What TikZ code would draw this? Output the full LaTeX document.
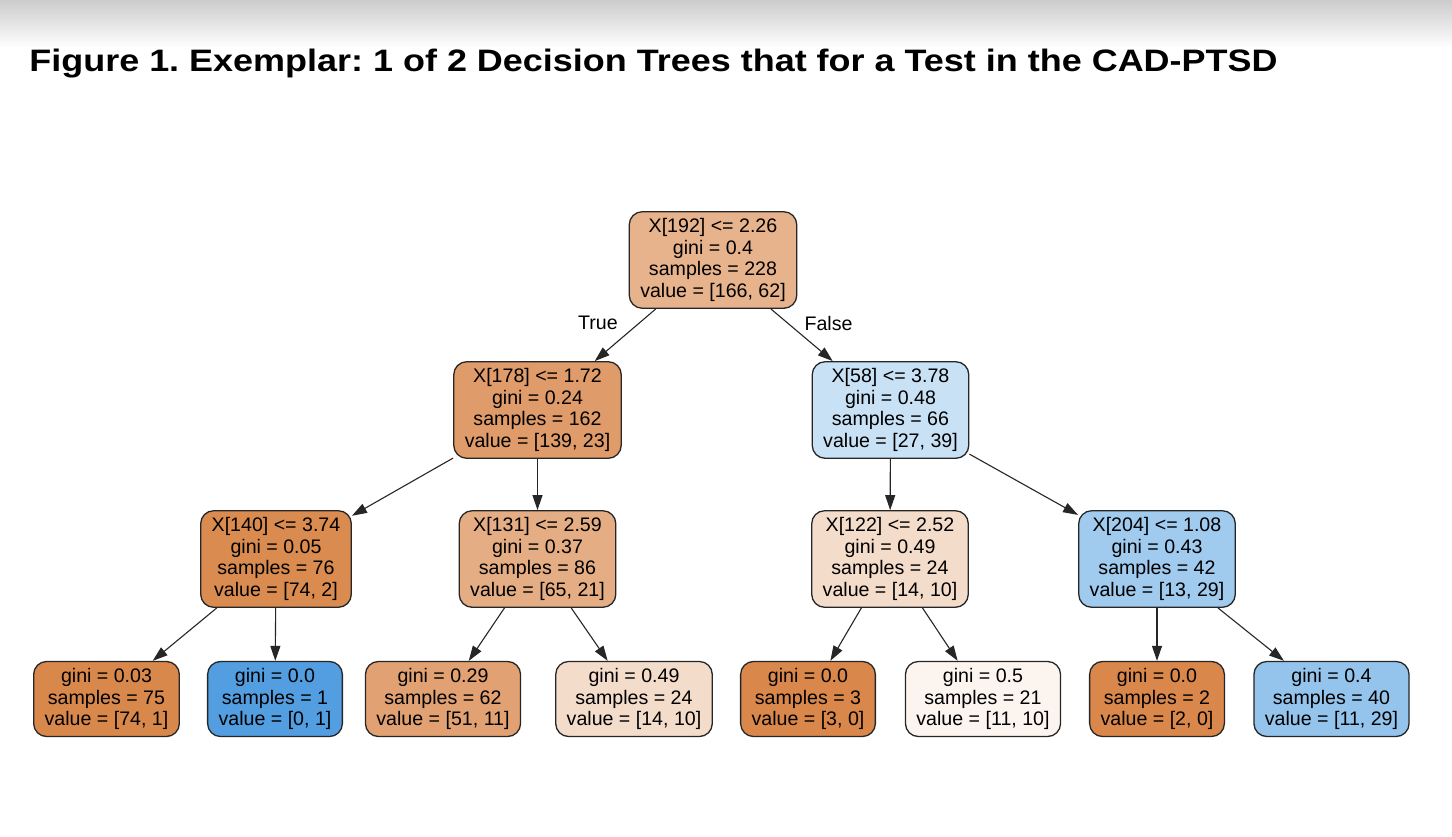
\documentclass[tikz,border=0pt]{standalone}
\usepackage{fontspec}
\setmainfont{Liberation Sans}
\newfontfamily\titlefont[FakeStretch=1.16]{Liberation Sans}
\usepackage{xcolor}
\usetikzlibrary{arrows.meta}

\definecolor{classA}{HTML}{D9874A}
\definecolor{classB}{HTML}{529EE0}

\begin{document}
\frenchspacing
\begin{tikzpicture}[x=0.5pt, y=-0.5pt,
    every node/.style={font=\fontsize{9.8}{10.75}\selectfont},
    split/.style={draw=black!85, line width=0.65pt, rounded corners=6.5pt,
      align=center, inner xsep=5.5pt, inner ysep=3.45pt},
    edge/.style={draw=black!85, line width=0.55pt,
      -{Triangle[length=7.5pt, width=5pt]}}]
    \useasboundingbox (0, 0) rectangle (1452, 836);
    \fill[white] (0, 0) rectangle (1452, 836);
    % Top shading
    \shade[top color=black!20, bottom color=white] (0, 0) rectangle (1452, 48);

    % Title
    \node[anchor=base west, inner sep=0pt, font=\titlefont\fontsize{15.5}{18}\selectfont\bfseries]
    (title) at (29, 71)
    {Figure 1. Exemplar: 1 of 2 Decision Trees that for a Test in the CAD-PTSD};

    % Root
    \node[split, fill=classA!63!white] (n192) at (713, 260)
    {X[192] <= 2.26\\gini = 0.4\\samples = 228\\value = [166, 62]};

    % Level 1
    \node[split, fill=classA!83!white] (n178) at (537.5, 410)
    {X[178] <= 1.72\\gini = 0.24\\samples = 162\\value = [139, 23]};
    \node[split, fill=classB!31!white] (n58) at (890.5, 410)
    {X[58] <= 3.78\\gini = 0.48\\samples = 66\\value = [27, 39]};

    % Level 2
    \node[split, fill=classA!97!white] (n140) at (276, 559)
    {X[140] <= 3.74\\gini = 0.05\\samples = 76\\value = [74, 2]};
    \node[split, fill=classA!68!white] (n131) at (537.5, 559)
    {X[131] <= 2.59\\gini = 0.37\\samples = 86\\value = [65, 21]};
    \node[split, fill=classA!29!white] (n122) at (890, 559)
    {X[122] <= 2.52\\gini = 0.49\\samples = 24\\value = [14, 10]};
    \node[split, fill=classB!55!white] (n204) at (1157, 559)
    {X[204] <= 1.08\\gini = 0.43\\samples = 42\\value = [13, 29]};

    % Leaves
    \node[split, fill=classA!99!white] (l75) at (106.5, 699)
    {gini = 0.03\\samples = 75\\value = [74, 1]};
    \node[split, fill=classB] (l1) at (275, 699)
    {gini = 0.0\\samples = 1\\value = [0, 1]};
    \node[split, fill=classA!78!white] (l62) at (443, 699)
    {gini = 0.29\\samples = 62\\value = [51, 11]};
    \node[split, fill=classA!29!white] (l24) at (634, 699)
    {gini = 0.49\\samples = 24\\value = [14, 10]};
    \node[split, fill=classA] (l3) at (808, 699)
    {gini = 0.0\\samples = 3\\value = [3, 0]};
    \node[split, fill=classA!9!white] (l21) at (983, 699)
    {gini = 0.5\\samples = 21\\value = [11, 10]};
    \node[split, fill=classA] (l2) at (1157, 699)
    {gini = 0.0\\samples = 2\\value = [2, 0]};
    \node[split, fill=classB!62!white] (l40) at (1331.5, 699)
    {gini = 0.4\\samples = 40\\value = [11, 29]};

    % Edges
    \draw[edge] (n192) -- (n178);
    \draw[edge] (n192) -- (n58);
    \node (true) at (598, 323) {True};
    \node (false) at (828.5, 323) {False};
    \draw[edge] (n178) -- (n140);
    \draw[edge] (n178) -- (n131);
    \draw[edge] (n58) -- (n122);
    \draw[edge] (n58) -- (n204);
    \draw[edge] (n140) -- (l75);
    \draw[edge] (n140) -- (l1);
    \draw[edge] (n131) -- (l62);
    \draw[edge] (n131) -- (l24);
    \draw[edge] (n122) -- (l3);
    \draw[edge] (n122) -- (l21);
    \draw[edge] (n204) -- (l2);
    \draw[edge] (n204) -- (l40);
\end{tikzpicture}
\end{document}
